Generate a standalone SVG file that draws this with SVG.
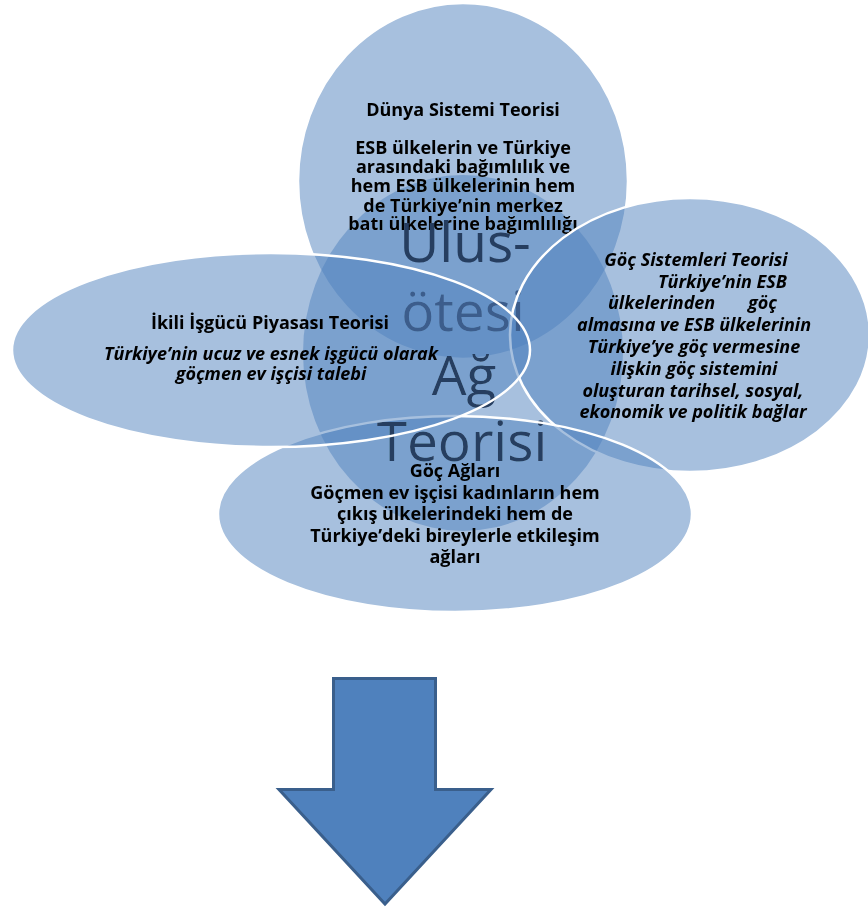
<svg xmlns="http://www.w3.org/2000/svg" width="868" height="908" viewBox="0 0 868 908">
  <style>
    /* translucent venn shapes; darken keeps text that is already drawn underneath legible */
    .fill { fill: #4f81bd; fill-opacity: 0.5; stroke: none; mix-blend-mode: darken; }
    .edge { fill: none; stroke: #ffffff; stroke-width: 2.5; }
    .t { font-family: "Open Sans", "Noto Sans", "DejaVu Sans", sans-serif; font-size: 18px; font-weight: 700; fill: #000000; text-anchor: middle; }
    .it { font-style: italic; }
    .big { font-family: "Open Sans", "Noto Sans", "DejaVu Sans", sans-serif; font-size: 55px; font-weight: 400; fill: #263e60; text-anchor: middle; }
    .arrow { fill: #4f81bd; stroke: #3a5f8c; stroke-width: 3; stroke-linejoin: miter; }
  </style>

  <rect x="0" y="0" width="868" height="908" fill="#ffffff"/>

  <!-- Dünya Sistemi Teorisi -->
  <g id="node-dunya-sistemi">
    <ellipse class="fill" cx="463" cy="181" rx="165" ry="178"/>
    <ellipse class="edge" cx="463" cy="181" rx="165" ry="178"/>
    <text class="t" x="463" y="116">Dünya Sistemi Teorisi</text>
    <text class="t" x="463" y="154">ESB ülkelerin ve Türkiye</text>
    <text class="t" x="463" y="173">arasındaki bağımlılık ve</text>
    <text class="t" x="463" y="192">hem ESB ülkelerinin hem</text>
    <text class="t" x="463" y="212">de Türkiye’nin merkez</text>
    <text class="t" x="463" y="230">batı ülkelerine bağımlılığı</text>
  </g>

  <!-- central theory -->
  <g id="node-ulus-otesi">
    <ellipse class="fill" cx="463" cy="353" rx="160" ry="178"/>
    <text class="big" x="465" y="262">Ulus-</text>
    <text class="big" x="463" y="331" fill="#3c5d8c" style="fill:#3c5d8c">ötesi</text>
    <text class="big" x="464" y="395">Ağ</text>
    <text class="big" x="462" y="461">Teorisi</text>
  </g>

  <!-- Göç Sistemleri Teorisi -->
  <g id="node-goc-sistemleri">
    <ellipse class="fill" cx="690" cy="335" rx="180" ry="137"/>
    <ellipse class="edge" cx="690" cy="335" rx="180" ry="137"/>
    <text class="t it" x="696" y="266">Göç Sistemleri Teorisi</text>
    <text class="t it" x="658" y="288" style="text-anchor:start">Türkiye’nin ESB</text>
    <text class="t it" y="309" style="text-anchor:start"><tspan x="608">ülkelerinden</tspan><tspan x="748">göç</tspan></text>
    <text class="t it" x="694" y="331">almasına ve ESB ülkelerinin</text>
    <text class="t it" x="694" y="353">Türkiye’ye göç vermesine</text>
    <text class="t it" x="694" y="375">ilişkin göç sistemini</text>
    <text class="t it" x="693" y="397">oluşturan tarihsel, sosyal,</text>
    <text class="t it" x="693" y="418">ekonomik ve politik bağlar</text>
  </g>

  <!-- Göç Ağları -->
  <g id="node-goc-aglari">
    <ellipse class="fill" cx="455" cy="514" rx="237" ry="98"/>
    <ellipse class="edge" cx="455" cy="514" rx="237" ry="98"/>
    <text class="t" x="455" y="477">Göç Ağları</text>
    <text class="t" x="455" y="499">Göçmen ev işçisi kadınların hem</text>
    <text class="t" x="455" y="520">çıkış ülkelerindeki hem de</text>
    <text class="t" x="455" y="542">Türkiye’deki bireylerle etkileşim</text>
    <text class="t" x="455" y="563">ağları</text>
  </g>

  <!-- İkili İşgücü Piyasası Teorisi -->
  <g id="node-ikili-isgucu">
    <ellipse class="fill" cx="271" cy="350" rx="259" ry="97"/>
    <ellipse class="edge" cx="271" cy="350" rx="259" ry="97"/>
    <text class="t" x="270" y="329">İkili İşgücü Piyasası Teorisi</text>
    <text class="t it" x="271" y="360">Türkiye’nin ucuz ve esnek işgücü olarak</text>
    <text class="t it" x="271" y="380">göçmen ev işçisi talebi</text>
  </g>

  <!-- downward block arrow -->
  <g id="connectors">
    <path id="block-arrow" class="arrow" d="M333.5,678.5 H435.5 V789.5 H491 L385,904 L279,789.5 H333.5 Z"/>
  </g>
</svg>
